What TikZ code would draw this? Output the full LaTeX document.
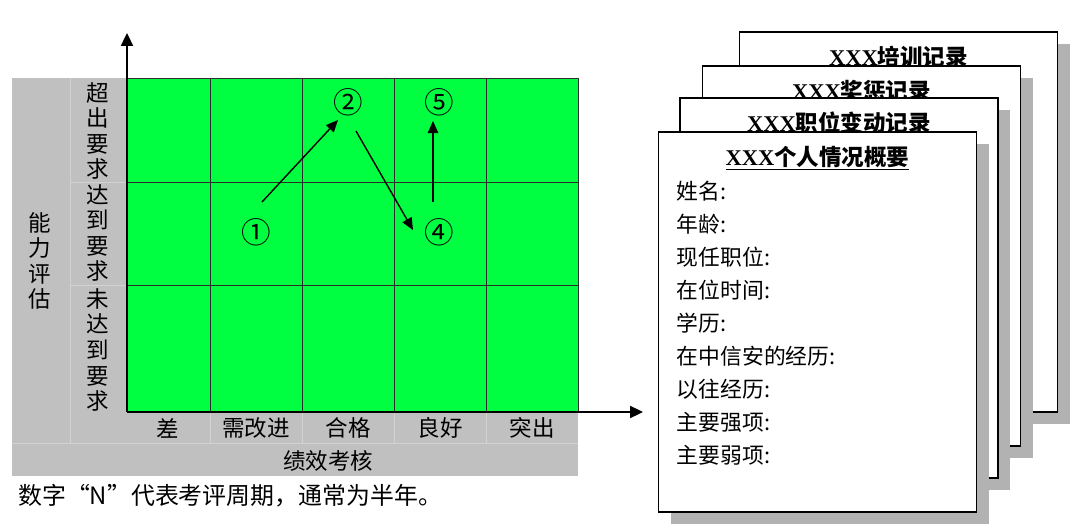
\documentclass[tikz,border=0pt]{standalone}
\usepackage{fontspec}
\setmainfont{Noto Sans CJK SC}
\newfontfamily\titlefont{Liberation Serif}[BoldFont={Liberation Serif Bold}]
\usepackage{xcolor}
\usepackage{tikz}
\usetikzlibrary{arrows.meta, positioning, shadows}

\definecolor{panelgray}{RGB}{192,192,192}
\definecolor{faintgray}{RGB}{210,210,210}
\definecolor{cellgreen}{RGB}{0,255,64}
\definecolor{gridline}{RGB}{45,45,45}
\definecolor{shadowgray}{RGB}{178,178,178}

\begin{document}
\begin{tikzpicture}[
    x=0.025cm, y=-0.025cm,
    axis/.style={-{Triangle[length=0.32cm, width=0.3cm]}, line width=1.1pt, black},
    arrow/.style={-{Triangle[length=0.3cm, width=0.26cm]}, line width=1pt, black},
    faint/.style={draw=faintgray, line width=0.5pt},
    gridrule/.style={draw=gridline, line width=0.7pt},
    label/.style={font=\fontsize{16}{18}\selectfont, inner sep=0pt},
    vlabel/.style={font=\fontsize{16}{18.2}\selectfont, align=center, inner sep=0pt},
    stage/.style={font=\fontsize{21}{21}\selectfont, inner sep=0pt},
    card/.style={rectangle, draw=black, line width=1.1pt, fill=white, minimum width=7.95cm, minimum height=9.5cm,
        drop shadow={shadow xshift=0.31cm, shadow yshift=-0.31cm, fill=shadowgray, opacity=1}},
    cardtitle/.style={font=\fontsize{16}{18}\selectfont\bfseries, inner sep=1pt},
    cardtext/.style={font=\fontsize{15.5}{23.4}\selectfont, align=left, inner sep=0pt},
]
\useasboundingbox (0,0) rectangle (1080,528);

% ===== Left: gray frame =====
\fill[panelgray] (12,78) rectangle (578,476);
\draw[faint] (70,78) -- (70,443);
\draw[faint] (12,443) -- (578,443);
\draw[faint] (70,182) -- (127,182);
\draw[faint] (70,285) -- (127,285);
\foreach \x in {210,302,394,486}
    \draw[faint] (\x,412) -- (\x,443);

% ===== Green matrix =====
\fill[cellgreen] (127,78) rectangle (578,412);
\draw[gridrule] (127,78) rectangle (578,412);
\foreach \x in {210,302,394,486}
    \draw[gridrule] (\x,78) -- (\x,412);
\foreach \y in {182,285}
    \draw[gridrule] (127,\y) -- (578,\y);

% ===== Axes =====
\coordinate (origin) at (127,412);
\coordinate (ytip) at (127,33);
\coordinate (xtip) at (643,412);
\draw[axis] (origin) -- (ytip);
\draw[axis] (origin) -- (xtip);

% ===== Axis labels =====
\node[vlabel] (ability) at (40,261) {能\\力\\评\\估};
\node[vlabel] (above) at (98,131) {超\\出\\要\\求};
\node[vlabel] (meets) at (98,233) {达\\到\\要\\求};
\node[vlabel] (below) at (98,350) {未\\达\\到\\要\\求};

\node[label] (poor) at (168,428) {差};
\node[label] (improve) at (256,428) {需改进};
\node[label] (pass) at (348,428) {合格};
\node[label] (good) at (440,428) {良好};
\node[label] (excellent) at (532,428) {突出};
\node[label] (perf) at (328,461) {绩效考核};

% ===== Review periods =====
\node[stage] (n1) at (256,232) {①};
\node[stage] (n2) at (348,102) {②};
\node[stage] (n4) at (439,232) {④};
\node[stage] (n5) at (439,102) {⑤};

\draw[arrow] ([shift={(6,-30)}]n1.center) -- ([shift={(-10,18)}]n2.center);
\draw[arrow] ([shift={(8,29)}]n2.center) -- ([shift={(-26,-2)}]n4.center);
\draw[arrow] ([shift={(-6,-30)}]n4.center) -- ([shift={(-6,19)}]n5.center);

% ===== Note =====
\node[font=\fontsize{17}{20}\selectfont, anchor=west, inner sep=0pt] (note) at (18,496) {数字“N”代表考评周期，通常为半年。};

% ===== Right: record cards =====
\node[card] (train) at (898.5,222) {};
\node[cardtitle, below=0.33cm of train.north] (traintitle) {{\titlefont\bfseries XXX}培训记录};

\node[card] (reward) at (861.5,256) {};
\node[cardtitle, below=0.33cm of reward.north] (rewardtitle) {{\titlefont\bfseries XXX}奖惩记录};

\node[card] (post) at (839,288) {};
\node[cardtitle, below=0.33cm of post.north] (posttitle) {{\titlefont\bfseries XXX}职位变动记录};

\node[card] (profile) at (817.5,322) {};
\node[cardtitle, below=0.33cm of profile.north] (profiletitle) {\underline{{\titlefont\bfseries XXX}个人情况概要}};

\node[cardtext, anchor=north west] (info) at ([shift={(19,50)}]profile.north west) {
    姓名:\\
    年龄:\\
    现任职位:\\
    在位时间:\\
    学历:\\
    在中信安的经历:\\
    以往经历:\\
    主要强项:\\
    主要弱项:
};

\end{tikzpicture}
\end{document}
